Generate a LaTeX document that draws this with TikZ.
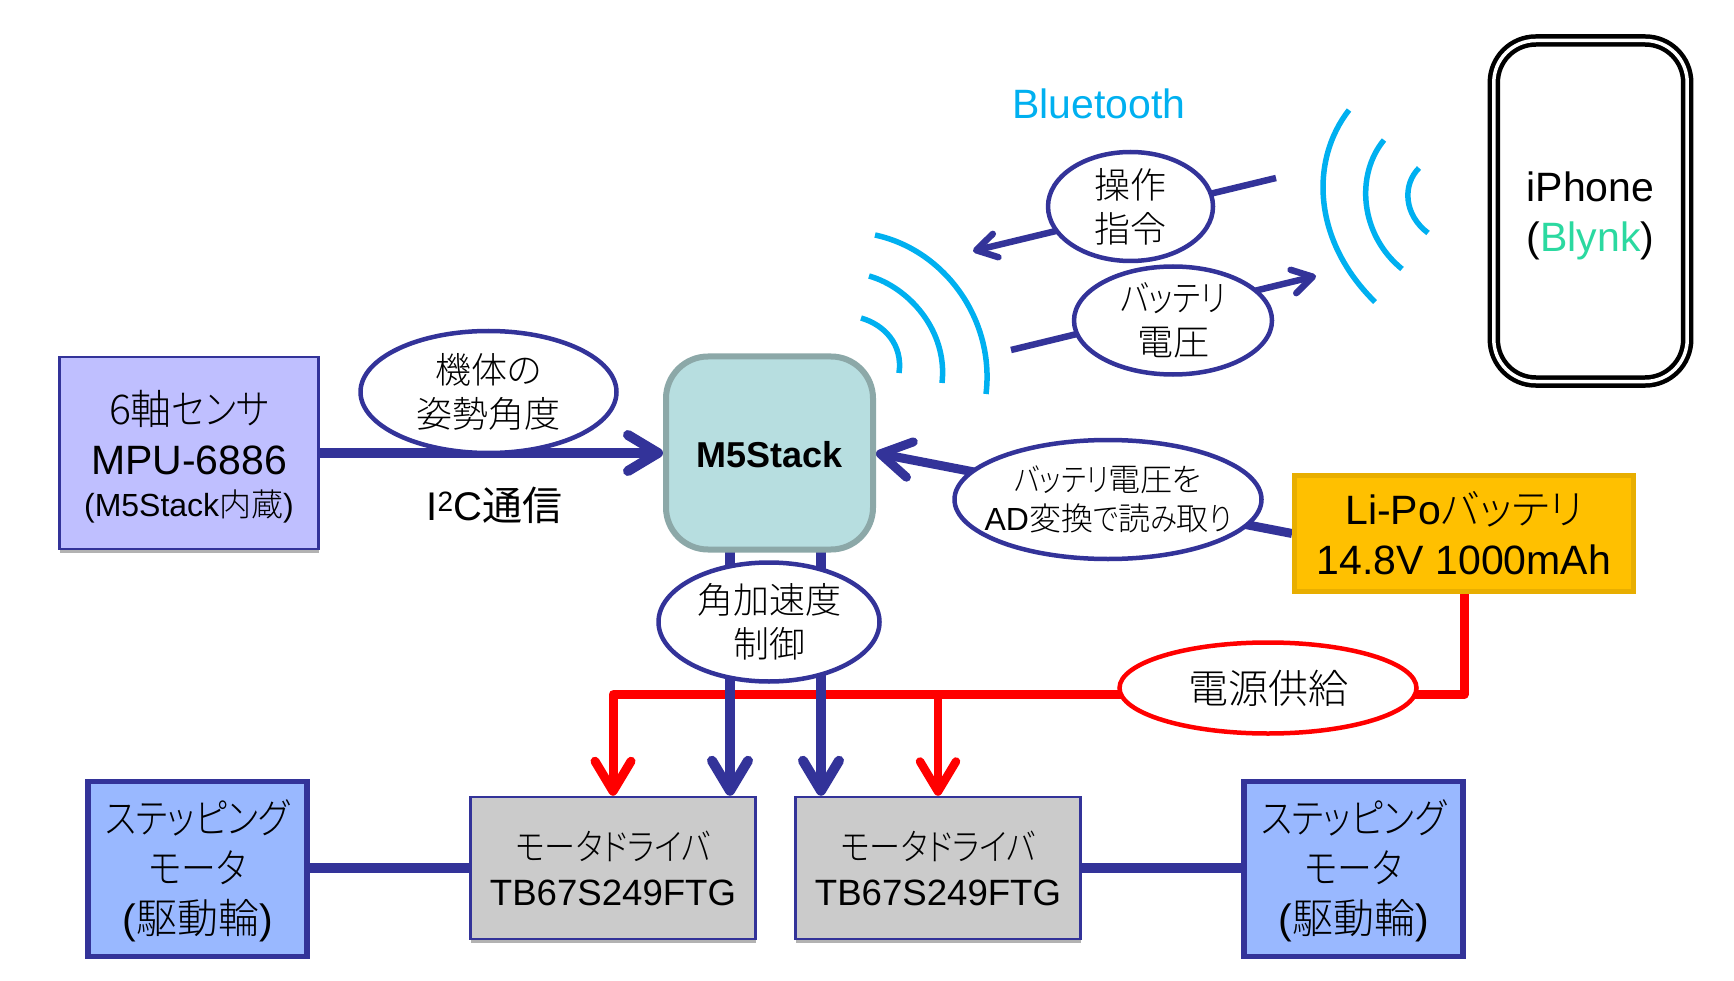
\documentclass[tikz,border=0pt]{standalone}
\usepackage{fontspec}
\usetikzlibrary{arrows.meta,shapes.geometric,shadows,calc}
\setmainfont{Liberation Sans}
\newfontfamily\jp[RawFeature=+palt]{Noto Sans CJK JP Light}
\newfontfamily\jr[RawFeature=+palt]{Noto Sans CJK JP}
\newfontfamily\kn[RawFeature=+palt,FakeStretch=0.85]{Noto Sans CJK JP Light}
\newcommand{\J}[1]{{\jp #1}}
\newcommand{\K}[1]{{\kn #1}}
\newcommand{\sz}[2]{\fontsize{#1}{#2}\selectfont}
\newcommand{\upstrut}[1]{\rule{0pt}{#1pt}}
\definecolor{navy}{HTML}{333399}
\definecolor{wave}{HTML}{00B0F0}
\definecolor{blynk}{HTML}{2BD9A0}
\definecolor{sensorfill}{HTML}{BFBFFF}
\definecolor{drvfill}{HTML}{CBCBCB}
\definecolor{motorfill}{HTML}{99B8FF}
\definecolor{m5fill}{HTML}{B7DEE0}
\definecolor{m5line}{HTML}{8CA8A8}
\definecolor{batfill}{HTML}{FFC000}
\definecolor{batline}{HTML}{E8AE00}
\pgfdeclarelayer{bg}
\pgfsetlayers{bg,main}
\tikzset{
  box/.style={draw,rectangle,inner sep=0pt,align=center,text=black},
  softshadow/.style={drop shadow={shadow xshift=0pt,shadow yshift=-4pt,opacity=.3,fill=black}},
  sensorbox/.style={box,fill=sensorfill,draw=navy,line width=2.5pt,softshadow,minimum width=259pt,minimum height=192pt},
  driverbox/.style={box,fill=drvfill,draw=navy,line width=2.5pt,softshadow,minimum width=285pt,minimum height=142pt,font=\sz{36.6}{45}},
  motorbox/.style={box,fill=motorfill,draw=navy,line width=5.5pt,minimum width=219pt,minimum height=175pt,font=\sz{41}{50}},
  bubble/.style={draw=navy,fill=white,ellipse,line width=4.5pt,inner sep=-25pt,align=center,font=\sz{36}{44}},
  link/.style={draw=navy,line width=#1,line cap=butt},
  bigtip/.style={-{Straight Barb[length=30pt,width=36pt,round]}},
  smalltip/.style={-{Straight Barb[length=20pt,width=24pt,round]}},
  wavearc/.style={draw=wave,line width=5.5pt},
}
\begin{document}
\begin{tikzpicture}[x=1pt,y=-1pt]
\useasboundingbox (0,0) rectangle (1734,981);

\node[sensorbox,font=\sz{41}{50}] (sensor) at (189,453) {\upstrut{41}\J{6軸}\K{センサ}\\MPU-6886\\[-8pt]{\sz{32}{45}(M5Stack\J{内蔵})}};
\node[box,fill=m5fill,draw=m5line,line width=6pt,rounded corners=42pt,minimum width=207pt,minimum height=193pt,font=\sz{36}{44}\bfseries] (m5) at (769.5,453) {\upstrut{30}M5Stack};
\node[box,fill=batfill,draw=batline,line width=5pt,minimum width=339pt,minimum height=116pt,font=\sz{41}{50}] (bat) at (1464,533.5) {Li-Po\J{バッテリ}\\14.8V 1000mAh};
\node[driverbox] (drv1) at (613,868) {\K{モータドライバ}\\TB67S249FTG};
\node[driverbox] (drv2) at (938,868) {\K{モータドライバ}\\TB67S249FTG};
\node[motorbox] (mot1) at (197.5,869) {\upstrut{38}\K{ステッピング}\\\K{モータ}\\(\J{駆動輪})};
\node[motorbox] (mot2) at (1353.5,869) {\upstrut{38}\K{ステッピング}\\\K{モータ}\\(\J{駆動輪})};
\node[box,draw=black,line width=4.5pt,double,double distance=3.5pt,rounded corners=42pt,minimum width=193.4pt,minimum height=341pt,font=\sz{41}{50}] (phone) at (1590.5,211) {\upstrut{40}iPhone\\(\textcolor{blynk}{Blynk})};

\node[bubble,minimum width=256pt,minimum height=122pt] (pose) at (488.5,392) {\J{機体の}\\\J{姿勢角度}};
\node[bubble,minimum width=221pt,minimum height=119pt] (ctrl) at (769,622) {\J{角加速度}\\\J{制御}};
\node[bubble,minimum width=165pt,minimum height=109pt] (cmd) at (1130.5,206.5) {\J{操作}\\\J{指令}};
\node[bubble,minimum width=198pt,minimum height=108pt] (volt) at (1173,320.5) {\K{バッテリ}\\\J{電圧}};
\node[bubble,minimum width=307pt,minimum height=119pt,font=\sz{32}{39}] (adc) at (1108,499.5) {\K{バッテリ}\J{電圧を}\\AD\J{変換}\K{で}\J{読}\K{み}\J{取}\K{り}};
\node[bubble,draw=red,minimum width=297pt,minimum height=91pt,font=\sz{40}{50}] (power) at (1268,688) {\J{電源供給}};

\node[font=\sz{40}{50}] (i2c) at (494.5,505) {I\textsuperscript{2}C{\jr 通信}};
\node[text=wave,font=\sz{41}{50}] (bt) at (1099,104) {Bluetooth};

\coordinate (busR) at (bat.south |- 0,694.7);
\coordinate (busL) at (drv1.north |- busR);
\coordinate (busM) at (drv2.north |- busR);
\coordinate (ctlA) at (730,552);
\coordinate (ctlB) at (821,552);
\coordinate (cmdFrom) at (1276,178);
\coordinate (cmdTo) at (973,251);
\coordinate (voltFrom) at (1011,350);
\coordinate (voltTo) at (1316,276);

\begin{pgfonlayer}{bg}
\fill[white] (0,0) rectangle (1734,981);
\draw[red,line width=9pt,line join=round,bigtip] (bat.south) -- (busR) -- (busL) -- (drv1.north);
\draw[red,line width=8.5pt,bigtip] (busM) -- (drv2.north);
\draw[link=10pt,bigtip] (sensor.east) -- (m5.west);
\draw[link=10pt,bigtip] (ctlA) -- (ctlA |- drv1.north);
\draw[link=10pt,bigtip] (ctlB) -- (ctlB |- drv2.north);
\draw[link=9pt,bigtip] (bat.west) -- (m5.east);
\draw[link=6.5pt,smalltip] (cmdFrom) -- (cmdTo);
\draw[link=6.5pt,smalltip] (voltFrom) -- (voltTo);
\draw[link=10pt] (drv1.west -| mot1.east) -- (drv1.west);
\draw[link=10pt] (drv2.east) -- (drv2.east -| mot2.west);
\end{pgfonlayer}

% radio waves at the M5Stack
\draw[wavearc] (875,235) .. controls (945,250) and (995,320) .. (986,394);
\draw[wavearc] (869,276) .. controls (908,287) and (948,330) .. (942,383);
\draw[wavearc] (861,318) .. controls (885,325) and (903,345) .. (899,373);
% radio waves at the iPhone
\draw[wavearc] (1349,110) .. controls (1310,160) and (1312,240) .. (1375,302);
\draw[wavearc] (1384,140) .. controls (1355,175) and (1360,235) .. (1402,269);
\draw[wavearc] (1419,168) .. controls (1402,185) and (1404,215) .. (1428,233);
\end{tikzpicture}
\end{document}
